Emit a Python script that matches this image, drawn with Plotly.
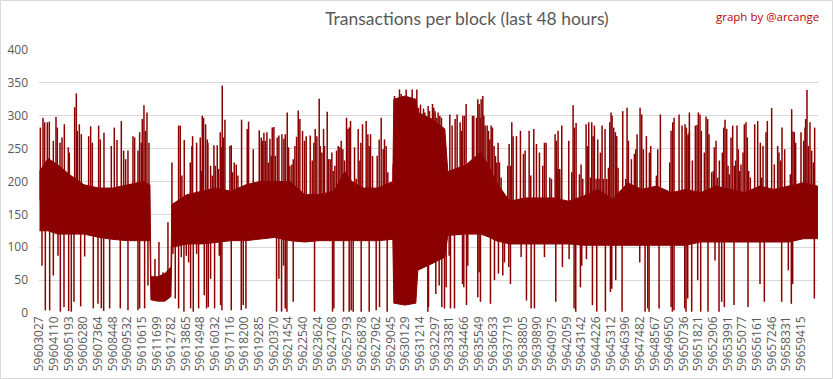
import numpy as np
import plotly.graph_objects as go

# ---------------- data ----------------
tick_labels = [
    "59603027", "59604110", "59605193", "59606280", "59607364", "59608448",
    "59609532", "59610615", "59611699", "59612782", "59613865", "59614948",
    "59616032", "59617116", "59618200", "59619285", "59620370", "59621454",
    "59622540", "59623624", "59624708", "59625793", "59626878", "59627962",
    "59629045", "59630129", "59631214", "59632297", "59633381", "59634466",
    "59635549", "59636633", "59637719", "59638805", "59639890", "59640975",
    "59642059", "59643142", "59644226", "59645312", "59646396", "59647482",
    "59648567", "59649650", "59650736", "59651821", "59652906", "59653991",
    "59655077", "59656161", "59657246", "59658331", "59659415",
]
first_block = 59603027
last_block = 59660626

# dense core of the series (range covered by most consecutive blocks)
core_blocks = [
    59603027, 59603656, 59604396, 59605284, 59606320, 59607430, 59608466, 59609576,
    59610686, 59611204, 59611278, 59611796, 59612314, 59612758, 59612832, 59613942,
    59615052, 59616088, 59617198, 59618308, 59619344, 59620454, 59621564, 59622674,
    59623710, 59624820, 59625634, 59626152, 59626966, 59628076, 59629186, 59629260,
    59630074, 59630888, 59631036, 59632072, 59633034, 59633256, 59634588, 59635698,
    59636364, 59636808, 59637844, 59638954, 59640064, 59641100, 59642210, 59643320,
    59644356, 59645466, 59646576, 59647612, 59648722, 59649832, 59650868, 59651978,
    59653088, 59654124, 59655234, 59656344, 59657380, 59658490, 59659600, 59660626,
]
core_top = [
    215, 235, 225, 210, 195, 190, 190, 195,
    200, 195, 55, 55, 60, 70, 165, 180,
    185, 190, 185, 195, 200, 200, 200, 180,
    180, 185, 215, 200, 190, 190, 200, 325,
    330, 325, 305, 295, 280, 215, 225, 245,
    220, 200, 170, 175, 175, 175, 170, 178,
    188, 173, 198, 188, 193, 183, 188, 183,
    193, 188, 183, 193, 188, 193, 198, 193,
]
core_bottom = [
    125, 125, 120, 120, 120, 115, 112, 110,
    110, 110, 20, 18, 18, 25, 100, 105,
    105, 108, 110, 110, 112, 115, 110, 108,
    110, 110, 110, 110, 110, 110, 112, 15,
    12, 15, 65, 75, 85, 118, 120, 120,
    115, 110, 105, 105, 105, 105, 105, 103,
    103, 103, 103, 103, 103, 103, 103, 108,
    108, 108, 108, 108, 108, 108, 113, 113,
]

# isolated high blocks (spikes above the core)
peak_blocks = [
    59603089, 59603286, 59603409, 59603607, 59603755, 59604051, 59604248, 59604347,
    59604544, 59604692, 59604865, 59605161, 59605235, 59605630, 59605753, 59605827,
    59605975, 59606123, 59606666, 59606814, 59606937, 59607406, 59607529, 59607801,
    59608343, 59608565, 59608763, 59609084, 59609256, 59609404, 59609577, 59609947,
    59610070, 59610317, 59610440, 59610564, 59610638, 59610761, 59610860, 59610983,
    59611131, 59611575, 59611871, 59612167, 59612537,
    59612832, 59613325, 59613449, 59613572, 59613745, 59614189, 59614312, 59614362,
    59614658, 59614929, 59615003, 59615077, 59615176, 59615324, 59615447, 59615496,
    59615694, 59615817, 59615940, 59616039, 59616187, 59616286, 59616409, 59616483,
    59616557, 59616656, 59616755, 59617125, 59617223, 59617322, 59617445, 59617593,
    59617717, 59617988, 59618407, 59618506, 59618852, 59619296, 59619444, 59619542,
    59619641, 59619740, 59619863, 59619962, 59620085, 59620184, 59620258, 59620381,
    59620480, 59620628, 59620751, 59620973, 59621121, 59621220, 59621368, 59621467,
    59621565, 59621713, 59621812, 59621935, 59622059, 59622182,
    59622304, 59622501, 59622649, 59622773, 59623069, 59623217, 59623340, 59623439,
    59623562, 59623735, 59623809, 59623932, 59624056, 59624130, 59624327, 59624426,
    59624549, 59624672, 59624771, 59624894, 59625018, 59625141, 59625264, 59625363,
    59625486, 59625610, 59625758, 59625856, 59625955, 59626054, 59626350, 59626473,
    59626621, 59626745, 59626819, 59626942, 59627213, 59627337, 59627435, 59627534,
    59627682, 59628027, 59628175, 59628324, 59628472, 59628570, 59628694, 59628817,
    59629212, 59629310, 59629508, 59629680, 59629804, 59630050, 59630174, 59630297,
    59630494, 59630618, 59630791, 59630963, 59631087, 59631235, 59631358, 59631457,
    59631555,
    59631801, 59631899, 59632023, 59632121, 59632220, 59632319, 59632442, 59632541,
    59632664, 59632787, 59632911, 59633010, 59633133, 59633256, 59633404, 59633503,
    59633577, 59633799, 59633947, 59634070, 59634169, 59634268, 59634366, 59634490,
    59634613, 59634687, 59634761, 59634884, 59634983, 59635082, 59635180, 59635279,
    59635378, 59635476, 59635575, 59635649, 59635723, 59635847, 59635921, 59636019,
    59636167, 59636266, 59636365, 59636463, 59636562, 59636685, 59636784, 59636883,
    59636981, 59637080, 59637203, 59637697, 59637795, 59637919, 59637993, 59638092,
    59638338, 59638634, 59638856, 59638980, 59639276, 59639399, 59639621, 59639818,
    59640040, 59640287, 59640411, 59640534, 59640805, 59640929, 59641200, 59641299,
    59641397, 59641521,
    59641421, 59641544, 59641692, 59642210, 59642432, 59642531, 59642630, 59642753,
    59643000, 59643123, 59643246, 59643493, 59643592, 59643690, 59643814, 59643912,
    59644011, 59644110, 59644233, 59644356, 59644455, 59644554, 59644677, 59644776,
    59644899, 59645022, 59645146, 59645245, 59645343, 59645417, 59645541, 59645664,
    59645763, 59645861, 59646207, 59646429, 59646527, 59646626, 59646848, 59647070,
    59647169, 59647267, 59647489, 59647613, 59647736, 59647958, 59648180, 59648279,
    59648698, 59648797, 59648994, 59649685, 59649784, 59649907, 59650006, 59650376,
    59650598, 59650820, 59650919, 59651042, 59651141,
    59651065, 59651139, 59651361, 59651583, 59651707, 59651805, 59651929, 59652027,
    59652250, 59652373, 59652496, 59652595, 59652792, 59652916, 59652990, 59653113,
    59653236, 59653360, 59653582, 59653680, 59653779, 59653902, 59654001, 59654100,
    59654223, 59654346, 59654470, 59654568, 59654667, 59654766, 59654865, 59654963,
    59655111, 59655210, 59655333, 59655432, 59655531, 59655654, 59655975, 59656197,
    59656394, 59656493, 59656591, 59656813, 59656912, 59657233, 59657430, 59657677,
    59657776, 59657899, 59657998, 59658195, 59658614, 59658713, 59658812, 59658910,
    59659009, 59659404, 59659601, 59659700, 59659749, 59659848, 59659947, 59660070,
    59660193, 59660317, 59660415,
]
peak_values = [
    282, 297, 290, 290, 291, 262, 298, 282,
    259, 267, 287, 252, 244, 313, 334, 277,
    287, 272, 269, 284, 259, 285, 264, 274,
    254, 282, 263, 292, 247, 234, 247, 269,
    267, 247, 275, 259, 295, 316, 277, 305,
    259, 82, 108, 62, 138,
    229, 285, 285, 209, 263, 229, 254, 269,
    259, 267, 216, 300, 297, 287, 264, 259,
    224, 209, 255, 224, 255, 219, 275, 252,
    346, 267, 294, 254, 255, 214, 229, 226,
    209, 294, 280, 291, 249, 278, 267, 262,
    274, 262, 275, 229, 265, 239, 282, 283,
    239, 267, 270, 272, 265, 272, 305, 252,
    224, 226, 234, 254, 268, 308,
    295, 277, 262, 269, 270, 232, 259, 280,
    269, 326, 254, 244, 280, 254, 306, 234,
    234, 244, 216, 224, 247, 254, 252, 262,
    249, 232, 297, 280, 282, 292, 252, 204,
    280, 232, 259, 287, 292, 272, 254, 272,
    239, 239, 264, 297, 249, 264, 254, 214,
    226, 330, 325, 340, 333, 328, 340, 328,
    325, 340, 317, 340, 312, 317, 290, 311,
    305,
    315, 307, 280, 318, 312, 307, 297, 305,
    300, 297, 272, 229, 216, 214, 302, 216,
    285, 295, 302, 204, 290, 277, 300, 300,
    318, 224, 214, 206, 219, 300, 300, 214,
    297, 325, 318, 297, 325, 330, 300, 285,
    285, 277, 264, 285, 282, 254, 239, 229,
    259, 229, 206, 224, 257, 224, 290, 269,
    269, 277, 242, 247, 277, 209, 280, 257,
    244, 224, 259, 259, 206, 204, 272, 262,
    219, 206,
    277, 219, 285, 262, 214, 316, 282, 289,
    211, 226, 204, 287, 254, 290, 206, 290,
    269, 285, 204, 264, 204, 244, 285, 204,
    280, 204, 221, 290, 305, 300, 282, 275,
    269, 221, 307, 204, 312, 262, 234, 242,
    249, 272, 312, 302, 249, 269, 244, 254,
    209, 249, 302, 229, 277, 290, 297, 302,
    285, 287, 282, 272, 305,
    269, 276, 232, 285, 286, 305, 302, 277,
    244, 299, 295, 272, 214, 216, 252, 262,
    206, 232, 244, 282, 294, 280, 224, 211,
    267, 285, 224, 232, 285, 249, 216, 226,
    244, 287, 290, 267, 216, 206, 287, 292,
    259, 206, 254, 275, 292, 312, 226, 254,
    244, 232, 282, 249, 211, 310, 276, 275,
    259, 275, 262, 282, 295, 339, 254, 290,
    247, 229, 282,
]

# isolated low blocks (dips below the core)
dip_blocks = [
    59603212, 59603459, 59603779, 59604051, 59604396, 59604569, 59604840, 59605186,
    59605383, 59605580, 59606074, 59606370, 59607011, 59607357, 59607603, 59607776,
    59608220, 59609009, 59609577, 59610317, 59610440, 59610810, 59611057,
    59612906, 59613079, 59613325, 59613523, 59613720, 59613893, 59614066, 59614214,
    59614411, 59614658, 59614806, 59615225, 59615398, 59615521, 59615694, 59615990,
    59616335, 59616434, 59616533, 59617223, 59617963, 59618111, 59618309, 59620578,
    59620751, 59620948, 59621096, 59621220, 59621343, 59621812,
    59623390, 59624722, 59624820, 59625536, 59625955, 59626103, 59626251, 59626843,
    59627435, 59627953, 59628200, 59628768, 59631777,
    59631825, 59632195, 59632368, 59632615, 59632812, 59633010, 59633133, 59633355,
    59633454, 59633750, 59634342, 59634440, 59634638, 59634736, 59635476, 59635575,
    59635674, 59636414, 59636710, 59637006, 59637327, 59637450, 59637771, 59637894,
    59638684, 59639078, 59639424, 59639670, 59640411, 59641249,
    59641741, 59642235, 59642605, 59642728, 59643074, 59643172, 59643518, 59643962,
    59644282, 59644924, 59645294, 59645393, 59645689, 59646157, 59647465, 59647860,
    59648057, 59648156, 59648896, 59649784, 59649882, 59650006, 59650795, 59650894,
    59651017,
    59651312, 59651756, 59651978, 59652521, 59653039, 59653335, 59653532, 59653730,
    59654445, 59655481, 59656369, 59656690, 59657973, 59658466, 59658688, 59658787,
    59660391,
]
dip_values = [
    72, 4, 4, 57, 87, 2, 9, 3,
    2, 17, 10, 86, 7, 14, 7, 3,
    7, 7, 4, 4, 7, 7, 42,
    90, 22, 7, 85, 2, 87, 77, 7,
    2, 90, 7, 27, 7, 9, 52, 7,
    87, 12, 4, 4, 4, 12, 7, 2,
    52, 2, 72, 7, 2, 17,
    2, 2, 7, 2, 2, 4, 2, 2,
    2, 4, 9, 2, 2,
    9, 82, 29, 42, 9, 7, 39, 87,
    7, 7, 44, 39, 12, 72, 24, 62,
    17, 14, 50, 60, 57, 77, 70, 44,
    85, 19, 7, 7, 85, 17,
    70, 82, 7, 2, 39, 72, 82, 12,
    2, 2, 32, 37, 50, 2, 77, 2,
    7, 2, 7, 9, 2, 4, 7, 2,
    22,
    2, 50, 2, 2, 80, 2, 17, 9,
    12, 9, 44, 17, 17, 65, 14, 44,
    22,
]

# ---------------- figure ----------------
RED = "#8B0000"
GREY = "#595959"
tick_blocks = [int(t) for t in tick_labels]

core_mid = (np.array(core_top) + np.array(core_bottom)) / 2.0


def strokes(blocks, values):
    base = np.interp(blocks, core_blocks, core_mid)
    xs, ys = [], []
    for b, v, m in zip(blocks, values, base):
        xs += [b, b, None]
        ys += [float(m), v, None]
    return xs, ys


px, py = strokes(peak_blocks, peak_values)
dx, dy = strokes(dip_blocks, dip_values)

fig = go.Figure()
fig.add_trace(go.Scatter(
    x=core_blocks + core_blocks[::-1],
    y=core_top + core_bottom[::-1],
    fill="toself", fillcolor=RED, mode="lines",
    line=dict(color=RED, width=1), hoverinfo="skip", showlegend=False,
))
fig.add_trace(go.Scatter(
    x=px + dx, y=py + dy, mode="lines", line=dict(color=RED, width=1.5),
    hoverinfo="skip", showlegend=False,
))

L, R, T, B = 39, 15, 50, 66
W, H = 833, 379
pw, ph = W - L - R, H - T - B

fig.update_layout(
    width=W, height=H,
    margin=dict(l=L, r=R, t=T, b=B, pad=0),
    paper_bgcolor="white", plot_bgcolor="white",
    font=dict(family="Open Sans, Liberation Sans, sans-serif", color=GREY, size=12),
    title=dict(
        text="Transactions per block (last 48 hours)",
        font=dict(family="Lato, Open Sans, sans-serif", size=17.5, color=GREY),
        xref="paper", x=(467 - L) / pw, xanchor="center",
        yref="container", y=1 - 19 / H, yanchor="middle",
    ),
    xaxis=dict(
        range=[first_block - 37, last_block + 37],
        tickmode="array", tickvals=tick_blocks, ticktext=tick_labels,
        tickangle=-90, tickfont=dict(size=12, color=GREY),
        showgrid=False, zeroline=False, showline=False, ticks="",
        automargin=False,
    ),
    yaxis=dict(
        range=[0, 400], dtick=50, tick0=0,
        gridcolor="#D9D9D9", gridwidth=1,
        tickfont=dict(size=12, color=GREY),
        zeroline=False, showline=False, ticks="",
        ticklabelstandoff=10, automargin=False,
    ),
    annotations=[dict(
        text="graph by @arcange", showarrow=False,
        xref="paper", yref="paper",
        x=(821 - L) / pw, xanchor="right",
        y=(H - B - 16) / ph, yanchor="middle",
        font=dict(family="Open Sans, Liberation Sans, sans-serif", size=11.5, color="#C00000"),
    )],
    shapes=[dict(
        type="rect", xref="paper", yref="paper",
        x0=(0.5 - L) / pw, x1=(W - 0.5 - L) / pw,
        y0=(H - B - (H - 0.5)) / ph, y1=(H - B - 0.5) / ph,
        line=dict(color="#D9D9D9", width=1), fillcolor="rgba(0,0,0,0)", layer="below",
    )],
)

fig.write_html(
    "out.html",
    config={"displayModeBar": False},
    post_script="document.body.style.margin='0';",
)
